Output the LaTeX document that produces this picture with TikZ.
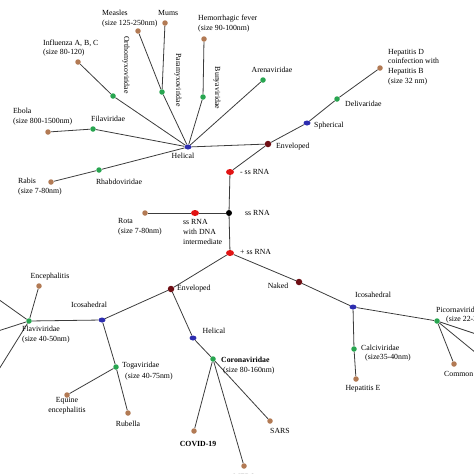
\documentclass[tikz,border=0pt]{standalone}
\usepackage{fontspec}
\setmainfont{Liberation Serif}
\usetikzlibrary{shapes.geometric}
\definecolor{cbrown}{RGB}{178,122,84}
\definecolor{cgreen}{RGB}{40,165,80}
\definecolor{cblue}{RGB}{45,45,175}
\definecolor{cred}{RGB}{225,20,20}
\definecolor{cdred}{RGB}{110,15,20}
\definecolor{cline}{RGB}{60,60,60}
\pgfdeclarelayer{bg}
\pgfsetlayers{bg,main}
\tikzset{
  brn/.style={circle,fill=cbrown,inner sep=0pt,minimum size=5.5pt},
  grn/.style={circle,fill=cgreen,inner sep=0pt,minimum size=5.5pt},
  blu/.style={ellipse,fill=cblue,inner sep=0pt,minimum width=7pt,minimum height=5pt},
  rdn/.style={ellipse,fill=cred,inner sep=0pt,minimum width=8pt,minimum height=6pt},
  drd/.style={circle,fill=cdred,inner sep=0pt,minimum size=6.5pt},
  blk/.style={circle,fill=black,inner sep=0pt,minimum size=6pt},
  lbl/.style={inner sep=0pt,align=left,font=\fontsize{7.8}{9.8}\selectfont},
  lblc/.style={inner sep=0pt,align=center,font=\fontsize{7.8}{9.8}\selectfont},
  lblb/.style={inner sep=0pt,align=left,font=\fontsize{7.8}{9.8}\selectfont\bfseries},
  vlbl/.style={inner sep=0pt,rotate=-90,font=\fontsize{7.8}{9.8}\selectfont},
  edge/.style={draw=cline,line width=0.8pt}
}
\begin{document}
\begin{tikzpicture}[x=1pt,y=-1pt]
\useasboundingbox (0,0) rectangle (474,474);
% ---- upper part (- ss RNA) ----
\node[blu] (helA) at (188,147) {};
\node[grn] (ortho) at (113,96) {};
\node[brn] (influ) at (78,62) {};
\node[grn] (para) at (162,92) {};
\node[brn] (measles) at (138,31) {};
\node[brn] (mums) at (165,23) {};
\node[grn] (bunya) at (203,97) {};
\node[brn] (hemo) at (204,39) {};
\node[grn] (arena) at (263,80) {};
\node[grn] (fila) at (93,129) {};
\node[brn] (ebola) at (48,132) {};
\node[grn] (rhabdo) at (99,170) {};
\node[brn] (rabis) at (51,182) {};
\node[drd] (envA) at (268,144) {};
\node[blu] (spher) at (307,123) {};
\node[grn] (deliv) at (337,99) {};
\node[brn] (hepD) at (380,68) {};
\node[rdn] (negss) at (230,172) {};
\node[blk] (ss) at (229,213) {};
\node[rdn] (ssdna) at (195,213) {};
\node[brn] (rota) at (145,213) {};
\node[rdn] (posss) at (230,253) {};
% ---- lower part (+ ss RNA) ----
\node[drd] (envB) at (171,289) {};
\node[drd] (naked) at (299,282) {};
\node[blu] (icoL) at (102,320) {};
\node[grn] (flavi) at (29,321) {};
\node[brn] (enceph) at (39,286) {};
\node[grn] (toga) at (116,367) {};
\node[brn] (equine) at (67,395) {};
\node[brn] (rubella) at (128,413) {};
\node[blu] (helB) at (193,338) {};
\node[grn] (corona) at (213,359) {};
\node[brn] (covid) at (194,431) {};
\node[brn] (sars) at (270,421) {};
\node[brn] (mers) at (244,466) {};
\node[blu] (icoR) at (353,307) {};
\node[grn] (calci) at (354,349) {};
\node[brn] (hepE) at (356,379) {};
\node[grn] (picorna) at (437,321) {};
\node[brn] (cold) at (454,364) {};
\coordinate (fl1) at (-2,299);
\coordinate (fl2) at (-2,331);
\coordinate (fl3) at (-4,374);
\coordinate (pc1) at (476,334);
\coordinate (pc2) at (476,353);
\begin{pgfonlayer}{bg}
\draw[edge] (helA) -- (ortho) -- (influ);
\draw[edge] (helA) -- (para) -- (measles);
\draw[edge] (para) -- (mums);
\draw[edge] (helA) -- (bunya) -- (hemo);
\draw[edge] (helA) -- (arena);
\draw[edge] (helA) -- (fila) -- (ebola);
\draw[edge] (helA) -- (rhabdo) -- (rabis);
\draw[edge] (helA) -- (envA);
\draw[edge] (envA) -- (spher) -- (deliv) -- (hepD);
\draw[edge] (envA) -- (negss);
\draw[edge] (negss) -- (ss) -- (posss);
\draw[edge] (rota) -- (ssdna) -- (ss);
\draw[edge] (posss) -- (envB);
\draw[edge] (posss) -- (naked);
\draw[edge] (envB) -- (icoL) -- (flavi);
\draw[edge] (flavi) -- (enceph);
\draw[edge] (flavi) -- (fl1);
\draw[edge] (flavi) -- (fl2);
\draw[edge] (flavi) -- (fl3);
\draw[edge] (icoL) -- (toga) -- (rubella);
\draw[edge] (toga) -- (equine);
\draw[edge] (envB) -- (helB) -- (corona);
\draw[edge] (corona) -- (covid);
\draw[edge] (corona) -- (sars);
\draw[edge] (corona) -- (mers);
\draw[edge] (naked) -- (icoR) -- (calci) -- (hepE);
\draw[edge] (icoR) -- (picorna) -- (cold);
\draw[edge] (picorna) -- (pc1);
\draw[edge] (picorna) -- (pc2);
\end{pgfonlayer}
% ---- labels ----
\node[lbl,anchor=west] (tMeasles) at (102,19) {Measles\\(size 125-250nm)};
\node[lbl,anchor=west] (tMums) at (158,13) {Mums};
\node[lbl,anchor=west] (tHemo) at (198,23.5) {Hemorrhagic fever\\(size 90-100nm)};
\node[lbl,anchor=west] (tInflu) at (43,48) {Influenza A, B, C\\(size 80-120)};
\node[vlbl] (tOrtho) at (126,65) {Orthomyxoviridae};
\node[vlbl] (tPara) at (178,80) {Paramyxoviridae};
\node[vlbl] (tBunya) at (217,88) {Bunyaviridae};
\node[lblc] (tArena) at (272,70) {Arenaviridae};
\node[lbl,anchor=west] (tHepD) at (388,67) {Hepatitis D\\coinfection with\\Hepatitis B\\(size 32 nm)};
\node[lbl,anchor=west] (tDeliv) at (345,104) {Delivaridae};
\node[lbl,anchor=west] (tSpher) at (314,126) {Spherical};
\node[lbl,anchor=west] (tEnvA) at (276,147) {Enveloped};
\node[lbl,anchor=west] (tEbola) at (13,117) {Ebola\\(size 800-1500nm)};
\node[lbl,anchor=west] (tFila) at (91,119) {Filaviridae};
\node[lblc] (tHelA) at (183,156) {Helical};
\node[lblc] (tRhabdo) at (119,182) {Rhabdoviridae};
\node[lbl,anchor=west] (tRabis) at (18,187) {Rabis\\(size 7-80nm)};
\node[lbl,anchor=west] (tNeg) at (240,172) {- ss RNA};
\node[lbl,anchor=west] (tSs) at (245,213) {ss RNA};
\node[lbl,anchor=west] (tSsdna) at (183,232) {ss RNA\\with DNA\\intermediate};
\node[lbl,anchor=west] (tRota) at (118,227) {Rota\\(size 7-80nm)};
\node[lbl,anchor=west] (tPos) at (240,252) {+ ss RNA};
\node[lbl,anchor=west] (tEnvB) at (177,289) {Enveloped};
\node[lblc] (tNaked) at (278,286) {Naked};
\node[lblc] (tHelB) at (214,331) {Helical};
\node[lblb,anchor=west] (tCorona) at (221,360) {Coronaviridae};
\node[lbl,anchor=west] (tCoronaS) at (223,371) {(size 80-160nm)};
\node[lblb,anchor=center] (tCovid) at (198,444) {COVID-19};
\node[lblc] (tSars) at (280,431) {SARS};
\node[lblc] (tMers) at (244,477) {MERS};
\node[lblc] (tIcoL) at (89,305) {Icosahedral};
\node[lblc] (tEnceph) at (50,277) {Encephalitis};
\node[lbl,anchor=west] (tFlavi) at (22,335) {Flaviviridae\\(size 40-50nm)};
\node[lbl,anchor=west] (tToga) at (122,366) {Togaviridae};
\node[lbl,anchor=west] (tTogaS) at (125,377) {(size 40-75nm)};
\node[lblc] (tEquine) at (67,406) {Equine\\encephalitis};
\node[lblc] (tRubella) at (128,424) {Rubella};
\node[lblc] (tIcoR) at (373,295) {Icosahedral};
\node[lbl,anchor=west] (tCalci) at (361,348) {Calciviridae};
\node[lbl,anchor=west] (tCalciS) at (365,358) {(size35-40nm)};
\node[lblc] (tHepE) at (363,389) {Hepatitis E};
\node[lbl,anchor=west] (tPicorna) at (436,310) {Picornaviridae};
\node[lbl,anchor=west] (tPicornaS) at (446,320) {(size 22-30nm)};
\node[lbl,anchor=west] (tCold) at (444,374) {Common cold};
\end{tikzpicture}
\end{document}
